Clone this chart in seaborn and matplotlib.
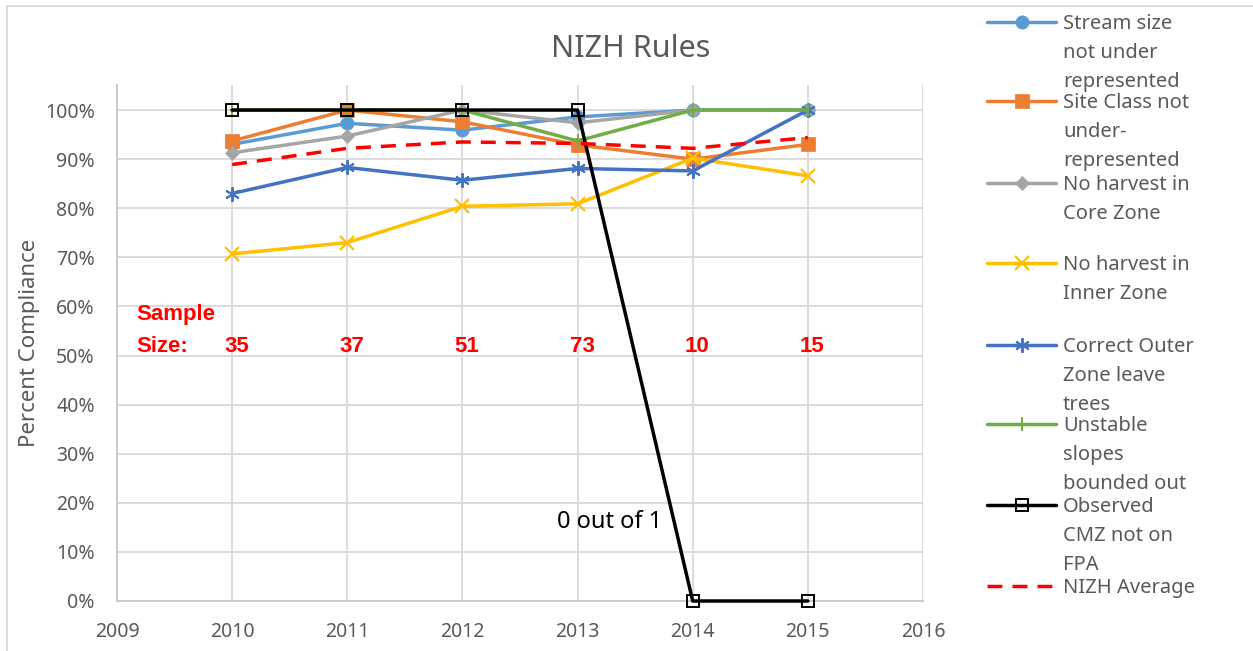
import matplotlib
matplotlib.use("Agg")
import matplotlib.pyplot as plt
import seaborn as sns
import numpy as np
from matplotlib.ticker import PercentFormatter
from matplotlib.lines import Line2D
from matplotlib.patches import Rectangle

# ---------------- data ----------------
years = [2010, 2011, 2012, 2013, 2014, 2015]
x_ticks = [2009, 2010, 2011, 2012, 2013, 2014, 2015, 2016]

stream_size = [0.930, 0.973, 0.959, 0.986, 1.000, 1.000]
site_class = [0.937, 1.000, 0.976, 0.929, 0.900, 0.930]
core_zone = [0.913, 0.947, 1.000, 0.974, 1.000, 1.000]
inner_zone = [0.707, 0.730, 0.804, 0.809, 0.902, 0.866]
outer_zone = [0.830, 0.883, 0.857, 0.881, 0.876, 1.000]
unstable = [1.000, 1.000, 1.000, 0.937, 1.000, 1.000]
observed_cmz = [1.000, 1.000, 1.000, 1.000, 0.000, 0.000]
nizh_average = [0.889, 0.922, 0.935, 0.932, 0.922, 0.944]

sample_sizes = [35, 37, 51, 73, 10, 15]

series_labels = [
    "Stream size\nnot under\nrepresented",
    "Site Class not\nunder-\nrepresented",
    "No harvest in\nCore Zone",
    "No harvest in\nInner Zone",
    "Correct Outer\nZone leave\ntrees",
    "Unstable\nslopes\nbounded out",
    "Observed\nCMZ not on\nFPA",
    "NIZH Average",
]
series_values = [stream_size, site_class, core_zone, inner_zone,
                 outer_zone, unstable, observed_cmz, nizh_average]

title_text = "NIZH Rules"
ylabel_text = "Percent Compliance"
note_text = "0 out of 1"

# ---------------- styles ----------------
styles = [
    dict(color="#5B9BD5", marker="o", markersize=9.5, markeredgecolor="#5B9BD5",
         markerfacecolor="#5B9BD5", markeredgewidth=0.5, linewidth=2.5),
    dict(color="#ED7D31", marker="s", markersize=9.5, markeredgecolor="#ED7D31",
         markerfacecolor="#ED7D31", markeredgewidth=0.5, linewidth=2.5),
    dict(color="#A5A5A5", marker="D", markersize=7.5, markeredgecolor="#A5A5A5",
         markerfacecolor="#A5A5A5", markeredgewidth=0.5, linewidth=2.5),
    dict(color="#FFC000", marker="x", markersize=10, markeredgecolor="#FFC000",
         markeredgewidth=1.6, linewidth=2.5),
    dict(color="#4472C4", marker=(6, 2, 0), markersize=10.5, markeredgecolor="#4472C4",
         markeredgewidth=1.4, linewidth=2.5),
    dict(color="#70AD47", marker="|", markersize=10, markeredgecolor="#70AD47",
         markeredgewidth=1.4, linewidth=2.5),
    dict(color="black", marker="s", markersize=9, markeredgecolor="black",
         markerfacecolor="none", markeredgewidth=1.4, linewidth=2.5),
    dict(color="#FF0000", linestyle=(0, (4.3, 2.9)), linewidth=2.5),
]

sns.set_style("white")
plt.rcParams["font.family"] = ["Noto Sans", "DejaVu Sans"]

W, H = 1253, 651
fig = plt.figure(figsize=(W / 100, H / 100), dpi=100)
ax = fig.add_axes([117 / W, 1 - 601 / H, (923 - 117) / W, (601 - 85) / H])

for i, (vals, st) in enumerate(zip(series_values, styles)):
    sns.lineplot(x=years, y=vals, ax=ax, clip_on=False, zorder=3 + i * 0.1, **st)

ax.set_xlim(2009, 2016)
ax.set_ylim(0, 1.051)
ax.set_xticks(x_ticks)
ax.set_yticks(np.arange(0, 1.001, 0.1))
ax.yaxis.set_major_formatter(PercentFormatter(1.0, decimals=0))
ax.grid(True, color="#d9d9d9", linewidth=1.3)
ax.set_axisbelow(True)
for s in ["top", "right"]:
    ax.spines[s].set_visible(False)
for s in ["left", "bottom"]:
    ax.spines[s].set_color("#c8c8c8")
    ax.spines[s].set_linewidth(1.3)
    ax.spines[s].set_zorder(1)
ax.tick_params(axis="both", length=0, labelsize=14, labelcolor="#595959")
ax.tick_params(axis="y", pad=16)
ax.tick_params(axis="x", pad=15)
ax.set_xlabel("")
ax.set_ylabel("")

# sample size annotations
bold_font = dict(family=["Liberation Sans", "DejaVu Sans"], fontweight="bold", fontsize=16)
ax.text(2009.17, 0.5845, "Sample", color="red", ha="left", va="center", **bold_font)
ax.text(2009.17, 0.519, "Size:", color="red", ha="left", va="center", **bold_font)
for yr, n in zip(years, sample_sizes):
    ax.text(yr + 0.04, 0.519, str(n), color="red", ha="center", va="center", **bold_font)

ax.text(2013.28, 0.161, note_text, color="black", fontsize=17, ha="center", va="center")

# title and y label
fig.text(631 / W, 1 - 49 / H, title_text, ha="center", va="center", fontsize=22,
         color="#595959")
fig.text(30 / W, 1 - 343 / H, ylabel_text, rotation=90, ha="center", va="center",
         fontsize=16, color="#595959")

# legend (manual layout to mimic spacing)
baselines = [29, 108, 190, 270, 352, 431, 512, 593]
for lab, st, bl in zip(series_labels, styles, baselines):
    hy = 1 - (bl - 7.5) / H
    line = Line2D([987 / W, 1021.5 / W, 1056 / W], [hy, hy, hy],
                  transform=fig.transFigure, markevery=[1], **st)
    fig.add_artist(line)
    for k, part in enumerate(lab.split("\n")):
        fig.text(1063 / W, 1 - (bl + 29 * k) / H, part, ha="left", va="baseline",
                 fontsize=14.5, color="#595959")

# chart border
fig.add_artist(Rectangle((7 / W, -0.05), 1.2, 1 - 6 / H + 0.05, transform=fig.transFigure,
                         fill=False, edgecolor="#d9d9d9", linewidth=1.3))

fig.savefig("out.png", dpi=100)
